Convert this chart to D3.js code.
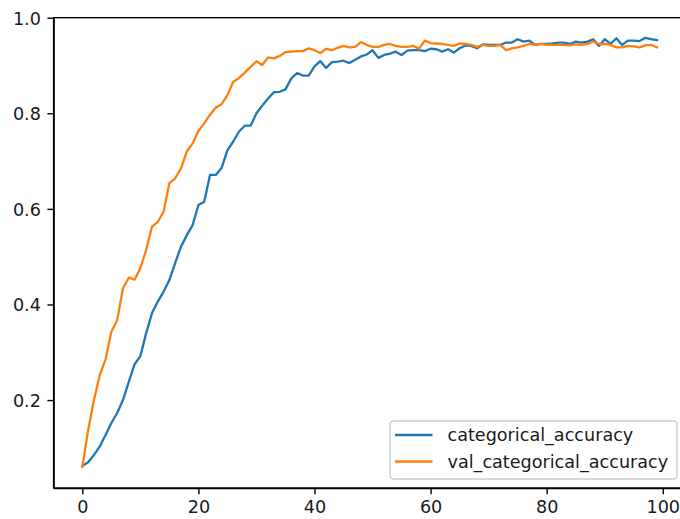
<!DOCTYPE html>
<html>
<head>
<meta charset="utf-8">
<script src="https://cdn.jsdelivr.net/npm/d3@7"></script>
<style>
  body { margin: 0; background: #fff; }
  svg { display: block; font-family: 'DejaVu Sans', sans-serif; }
</style>
</head>
<body>
<svg></svg>
<script>
const seriesNames = ['categorical_accuracy', 'val_categorical_accuracy'];

const categoricalAccuracy = [
  0.062, 0.070, 0.085, 0.103, 0.127, 0.152, 0.173, 0.200, 0.238, 0.275,
  0.292, 0.340, 0.382, 0.406, 0.427, 0.451, 0.487, 0.521, 0.545, 0.566,
  0.608, 0.615, 0.671, 0.671, 0.686, 0.723, 0.741, 0.762, 0.774, 0.774,
  0.800, 0.816, 0.831, 0.844, 0.845, 0.850, 0.873, 0.884, 0.879, 0.879,
  0.898, 0.909, 0.895, 0.907, 0.908, 0.910, 0.905, 0.912, 0.919, 0.923,
  0.932, 0.916, 0.922, 0.925, 0.929, 0.922, 0.931, 0.932, 0.932, 0.930,
  0.935, 0.934, 0.929, 0.934, 0.927, 0.936, 0.942, 0.941, 0.936, 0.944,
  0.943, 0.943, 0.943, 0.948, 0.948, 0.955, 0.950, 0.952, 0.943, 0.945,
  0.945, 0.946, 0.948, 0.948, 0.945, 0.950, 0.948, 0.950, 0.955, 0.941,
  0.955, 0.945, 0.957, 0.943, 0.952, 0.952, 0.951, 0.958, 0.955, 0.953
];

const valCategoricalAccuracy = [
  0.060, 0.137, 0.200, 0.252, 0.285, 0.343, 0.367, 0.434, 0.456, 0.452,
  0.476, 0.514, 0.563, 0.573, 0.594, 0.654, 0.664, 0.685, 0.720, 0.737,
  0.763, 0.779, 0.797, 0.812, 0.819, 0.838, 0.866, 0.874, 0.885, 0.897,
  0.909, 0.901, 0.917, 0.915, 0.920, 0.928, 0.929, 0.930, 0.930, 0.936,
  0.932, 0.926, 0.935, 0.932, 0.937, 0.941, 0.938, 0.939, 0.949, 0.943,
  0.939, 0.939, 0.943, 0.945, 0.941, 0.939, 0.939, 0.941, 0.935, 0.952,
  0.947, 0.946, 0.945, 0.943, 0.941, 0.946, 0.945, 0.943, 0.939, 0.943,
  0.941, 0.941, 0.943, 0.932, 0.936, 0.938, 0.941, 0.945, 0.943, 0.945,
  0.943, 0.943, 0.943, 0.943, 0.942, 0.944, 0.943, 0.945, 0.950, 0.945,
  0.945, 0.943, 0.938, 0.938, 0.941, 0.940, 0.938, 0.942, 0.943, 0.938
];

const xTicks = [0, 20, 40, 60, 80, 100],
      yTicks = [0.2, 0.4, 0.6, 0.8, 1.0];

const width = 680,
      height = 519,
      plotLeft = 53.6,
      plotRight = 685.7,
      plotTop = 17.7,
      plotBottom = 488,
      fontSize = 17.6,
      colors = ['#1f77b4', '#ff7f0e'],
      series = [categoricalAccuracy, valCategoricalAccuracy],
      xScale = d3.scaleLinear()
                 .domain([-4.95, 103.95])
                 .range([plotLeft, plotRight]),
      yScale = d3.scaleLinear()
                 .domain([0.016, 1.0])
                 .range([plotBottom, plotTop]),
      xAxis = d3.axisBottom(xScale)
                .tickValues(xTicks)
                .tickSize(6.2)
                .tickSizeOuter(0)
                .tickPadding(6),
      yAxis = d3.axisLeft(yScale)
                .tickValues(yTicks)
                .tickFormat(d3.format('.1f'))
                .tickSize(6.2)
                .tickSizeOuter(0)
                .tickPadding(6.5);

const svg = d3.select('svg')
    .attr('width', width)
    .attr('height', height);

const line = d3.line()
    .x((d, i) => xScale(i))
    .y((d) => yScale(d));

svg.selectAll('path.series')
  .data(series)
  .enter()
  .append('path')
    .attr('class', 'series')
    .attr('d', line)
    .attr('fill', 'none')
    .attr('stroke', (d, i) => colors[i])
    .attr('stroke-width', 2.3)
    .attr('stroke-linejoin', 'round')
    .attr('stroke-linecap', 'square');

// frame
svg.append('rect')
    .attr('x', plotLeft)
    .attr('y', plotTop)
    .attr('width', plotRight - plotLeft)
    .attr('height', plotBottom - plotTop)
    .attr('fill', 'none')
    .attr('stroke', '#000')
    .attr('stroke-width', 1.4);

const gx = svg.append('g')
    .attr('transform', `translate(0, ${plotBottom})`)
    .call(xAxis);

const gy = svg.append('g')
    .attr('transform', `translate(${plotLeft}, 0)`)
    .call(yAxis);

[gx, gy].forEach((g) => {
  g.select('.domain').attr('stroke-width', 1.4);
  g.selectAll('.tick line').attr('stroke-width', 1.4);
  g.selectAll('.tick text')
    .attr('fill', '#1a1a1a')
    .style('font-family', "'DejaVu Sans', sans-serif")
    .style('font-size', fontSize + 'px');
});

gx.selectAll('.tick text').attr('dy', '0.75em');
gy.selectAll('.tick text').attr('dy', '0.36em');

// legend
const legend = svg.append('g')
    .attr('transform', 'translate(390, 421)');

legend.append('rect')
    .attr('width', 287)
    .attr('height', 58)
    .attr('rx', 3.5)
    .attr('fill', '#fff')
    .attr('fill-opacity', 0.8)
    .attr('stroke', '#cccccc')
    .attr('stroke-width', 1.4);

const item = legend.selectAll('g.item')
  .data(seriesNames)
  .enter()
  .append('g')
    .attr('class', 'item')
    .attr('transform', (d, i) => `translate(0, ${14 + i * 26.5})`);

item.append('line')
    .attr('x1', 5)
    .attr('x2', 42.5)
    .attr('stroke', (d, i) => colors[i])
    .attr('stroke-width', 2.3);

item.append('text')
    .text((d) => d)
    .attr('x', 57.5)
    .attr('dy', '0.36em')
    .style('font-size', fontSize + 'px')
    .attr('fill', '#1a1a1a');
</script>
</body>
</html>
